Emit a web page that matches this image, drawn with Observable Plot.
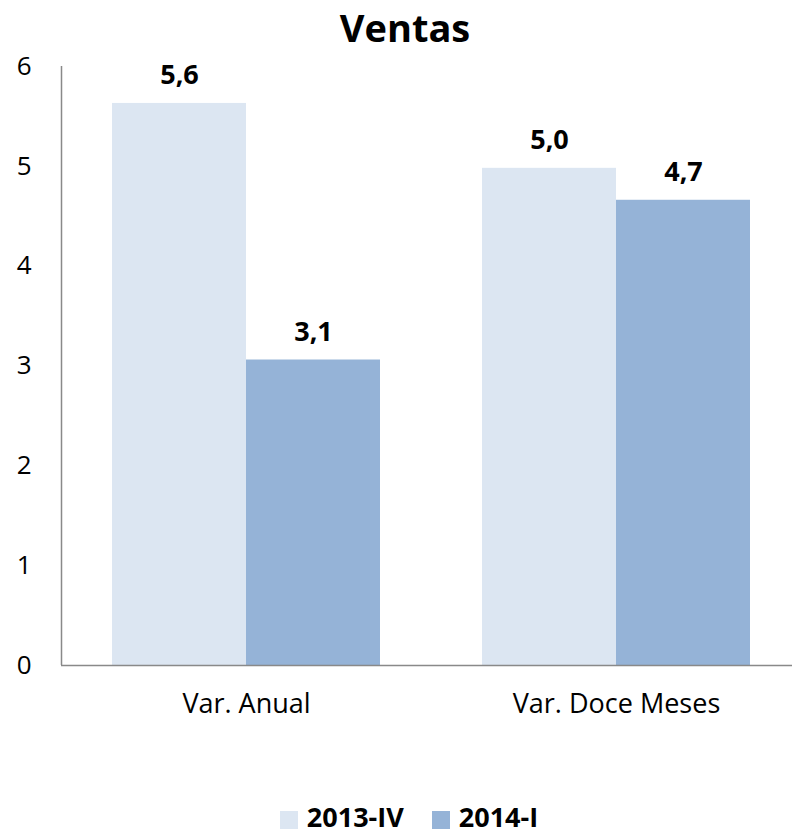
<!DOCTYPE html>
<html>
<head>
<meta charset="utf-8">
<script src="https://cdn.jsdelivr.net/npm/d3@7"></script>
<script src="https://cdn.jsdelivr.net/npm/@observablehq/plot@0.6"></script>
<style>
  html, body { margin: 0; padding: 0; background: #fff; overflow: hidden; }
  body { width: 792px; height: 833px; font-family: "Open Sans", sans-serif; position: relative; }
  #title { position: absolute; left: 0; top: 0; width: 792px; height: 52px; text-align: center; font-weight: bold; font-size: 38px; line-height: 54px; padding-left: 18px; box-sizing: border-box; color: #000; z-index: 2; }
  #chart { position: absolute; left: 0; top: 30px; height: 740px; }
  #legend { position: absolute; left: 0; top: 800px; width: 792px; height: 33px; display: flex; justify-content: center; align-items: center; box-sizing: border-box; font-weight: bold; font-size: 27px; color: #000; padding-left: 26px; }
  .item { display: flex; align-items: center; }
  .item + .item { margin-left: 28px; }
  .sw { width: 18px; height: 18px; margin-right: 9px; margin-top: 6px; }
  .lab { line-height: 30px; }
</style>
</head>
<body>
<div id="title">Ventas</div>
<div id="chart"></div>
<div id="legend"></div>
<script>
const categories = ["Var. Anual", "Var. Doce Meses"];
const seriesNames = ["2013-IV", "2014-I"];
const values2013IV = [5.63, 4.98];
const values2014I = [3.06, 4.66];
const yTicks = [0, 1, 2, 3, 4, 5, 6];
const colors = ["#DCE6F2", "#95B3D7"];

const rows = categories.map((c, i) => ({cat: c, a: values2013IV[i], b: values2014I[i]}));
const fmt = v => d3.format(".1f")(v).replace(".", ",");

const plot = Plot.plot({
  width: 792,
  height: 740,
  marginTop: 36,
  marginBottom: 105,
  marginLeft: 61,
  marginRight: 0,
  style: {fontFamily: "'Open Sans', sans-serif", fontSize: "26px", color: "#000", background: "#fff"},
  x: {domain: categories, range: [61, 801], padding: 0, label: null},
  y: {domain: [0, 6], label: null},
  marks: [
    Plot.barY(rows, {x: "cat", y: "a", fill: colors[0], insetLeft: 51, insetRight: 185}),
    Plot.barY(rows, {x: "cat", y: "b", fill: colors[1], insetLeft: 185, insetRight: 51}),
    Plot.text(rows, {x: "cat", y: "a", text: d => fmt(d.a), dx: -67, dy: -19, lineAnchor: "bottom", fontWeight: "bold", fontSize: 27, fill: "#000"}),
    Plot.text(rows, {x: "cat", y: "b", text: d => fmt(d.b), dx: 67, dy: -19, lineAnchor: "bottom", fontWeight: "bold", fontSize: 27, fill: "#000"}),
    Plot.ruleY([0], {stroke: "#898989", strokeWidth: 1.5}),
    Plot.ruleX([categories[0]], {x: d => d, dx: -185, y1: 0, y2: 6, stroke: "#898989", strokeWidth: 1.5}),
    Plot.axisY({ticks: yTicks, tickSize: 0, tickPadding: 30, tickFormat: d => String(d), fontSize: 26, label: null}),
    Plot.axisX({tickSize: 0, tickPadding: 28, fontSize: 27, label: null})
  ]
});
document.getElementById("chart").appendChild(plot);

const legend = document.getElementById("legend");
seriesNames.forEach((n, i) => {
  const item = document.createElement("div");
  item.className = "item";
  const sw = document.createElement("div");
  sw.className = "sw";
  sw.style.background = colors[i];
  const lab = document.createElement("span");
  lab.className = "lab";
  lab.textContent = n;
  item.appendChild(sw);
  item.appendChild(lab);
  legend.appendChild(item);
});
</script>
</body>
</html>
